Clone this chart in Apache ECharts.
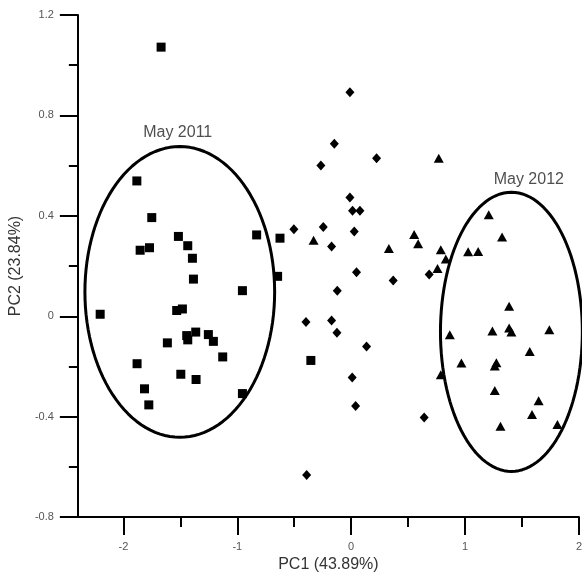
<!DOCTYPE html>
<html>
<head>
<meta charset="utf-8">
<script src="https://cdn.jsdelivr.net/npm/echarts@6.0.0/dist/echarts.min.js"></script>
<style>
  html, body { margin: 0; padding: 0; background: #fff; }
  #container { width: 585px; height: 578px; }
</style>
</head>
<body>
<div id="container"></div>
<script>
// PC1 / PC2 scores
let may2011 = [
    [-1.669, 1.072], [-1.882, 0.539], [-1.751, 0.393], [-1.517, 0.318], [-1.435, 0.281],
    [-0.830, 0.324], [-0.625, 0.311], [-1.853, 0.263], [-1.771, 0.273], [-1.394, 0.231],
    [-1.385, 0.148], [-0.646, 0.159], [-0.955, 0.102], [-2.204, 0.008], [-1.532, 0.023],
    [-1.482, 0.029], [-1.365, -0.063], [-1.444, -0.077], [-1.435, -0.094], [-1.254, -0.073],
    [-1.210, -0.100], [-1.614, -0.106], [-1.128, -0.162], [-1.880, -0.189], [-1.496, -0.231],
    [-1.362, -0.252], [-0.955, -0.308], [-1.815, -0.289], [-1.777, -0.353], [-0.354, -0.176]
];
let middle = [
    [-0.011, 0.892], [-0.148, 0.687], [0.223, 0.629], [-0.266, 0.601], [-0.011, 0.473],
    [0.012, 0.420], [0.077, 0.420], [-0.503, 0.347], [-0.245, 0.356], [0.027, 0.338],
    [-0.172, 0.278], [0.047, 0.175], [0.369, 0.142], [0.685, 0.166], [-0.122, 0.102],
    [-0.397, -0.023], [-0.172, -0.017], [-0.125, -0.066], [0.135, -0.120], [0.009, -0.244],
    [0.039, -0.357], [0.641, -0.403], [-0.391, -0.632]
];
let may2012 = [
    [0.769, 0.629], [0.553, 0.326], [0.588, 0.289], [0.331, 0.270], [0.787, 0.265],
    [0.758, 0.190], [0.831, 0.228], [1.208, 0.404], [1.325, 0.316], [1.027, 0.257],
    [1.115, 0.258], [1.387, 0.040], [0.866, -0.074], [1.240, -0.059], [1.387, -0.047],
    [1.407, -0.063], [1.740, -0.054], [1.568, -0.140], [0.968, -0.186], [1.275, -0.185],
    [1.261, -0.198], [0.787, -0.233], [1.261, -0.296], [1.646, -0.337], [1.588, -0.391],
    [1.311, -0.438], [1.811, -0.431], [-0.330, 0.303]
];

// ellipses: [cx, cy, rx, ry] in data units
let ellipse2011 = [-1.505, 0.097, 0.833, 0.579];
let ellipse2012 = [1.407, -0.062, 0.623, 0.556];

// text notes
let notes = [
    { name: 'May 2011', value: [-1.523, 0.732] },
    { name: 'May 2012', value: [1.56, 0.545] }
];

let xMajor = [-2, -1, 0, 1, 2];
let xMinor = [-1.5, -0.5, 0.5, 1.5];

function ellipsePoints(e) {
    let pts = [];
    for (let i = 0; i <= 120; i++) {
        let t = i / 120 * Math.PI * 2;
        pts.push([e[0] + e[2] * Math.cos(t), e[1] + e[3] * Math.sin(t)]);
    }
    return pts;
}

let myChart = echarts.init(document.getElementById('container'));
let fontFam = '"Liberation Sans", Arial, sans-serif';
let lineStyle = { color: '#000', width: 2 };

let option = {
    backgroundColor: '#fff',
    animation: false,
    grid: { left: 76, right: 6, top: 15, bottom: 59 },
    xAxis: [{
        type: 'value',
        min: -2.4,
        max: 2,
        name: 'PC1 (43.89%)',
        nameLocation: 'middle',
        nameGap: 39,
        nameTextStyle: { fontFamily: fontFam, fontSize: 16, color: '#333' },
        axisLine: { show: true, onZero: false, lineStyle: lineStyle },
        axisTick: { show: true, length: 18, lineStyle: lineStyle, customValues: xMajor },
        axisLabel: { margin: 24, fontFamily: fontFam, fontSize: 11, color: '#555', customValues: xMajor },
        splitLine: { show: false }
    }, {
        type: 'value',
        min: -2.4,
        max: 2,
        position: 'bottom',
        axisLine: { show: false, onZero: false },
        axisTick: { show: true, length: 10, lineStyle: lineStyle, customValues: xMinor },
        axisLabel: { show: false },
        splitLine: { show: false }
    }],
    yAxis: {
        type: 'value',
        min: -0.8,
        max: 1.2,
        interval: 0.4,
        name: 'PC2 (23.84%)',
        nameLocation: 'middle',
        nameGap: 49,
        nameTextStyle: { fontFamily: fontFam, fontSize: 16, color: '#333' },
        axisLine: { show: true, onZero: false, lineStyle: lineStyle },
        axisTick: { show: true, length: 18, lineStyle: lineStyle },
        minorTick: { show: true, splitNumber: 2, length: 9, lineStyle: lineStyle },
        axisLabel: { margin: 24, fontFamily: fontFam, fontSize: 11, color: '#555' },
        splitLine: { show: false },
        minorSplitLine: { show: false }
    },
    series: [{
        name: 'May 2011',
        type: 'scatter',
        symbol: 'rect',
        symbolSize: 9,
        itemStyle: { color: '#000', opacity: 1 },
        data: may2011
    }, {
        name: 'middle',
        type: 'scatter',
        symbol: 'diamond',
        symbolSize: [9, 10],
        itemStyle: { color: '#000', opacity: 1 },
        data: middle
    }, {
        name: 'May 2012',
        type: 'scatter',
        symbol: 'triangle',
        symbolSize: [10, 9],
        itemStyle: { color: '#000', opacity: 1 },
        data: may2012
    }, {
        type: 'line',
        data: ellipsePoints(ellipse2011),
        symbol: 'none',
        lineStyle: { color: '#000', width: 3 },
        silent: true
    }, {
        type: 'line',
        data: ellipsePoints(ellipse2012),
        symbol: 'none',
        lineStyle: { color: '#000', width: 3 },
        silent: true
    }, {
        type: 'scatter',
        symbolSize: 0,
        data: notes,
        label: {
            show: true,
            position: 'inside',
            formatter: '{b}',
            fontFamily: fontFam,
            fontSize: 16,
            color: '#222'
        }
    }]
};
myChart.setOption(option);
</script>
</body>
</html>
